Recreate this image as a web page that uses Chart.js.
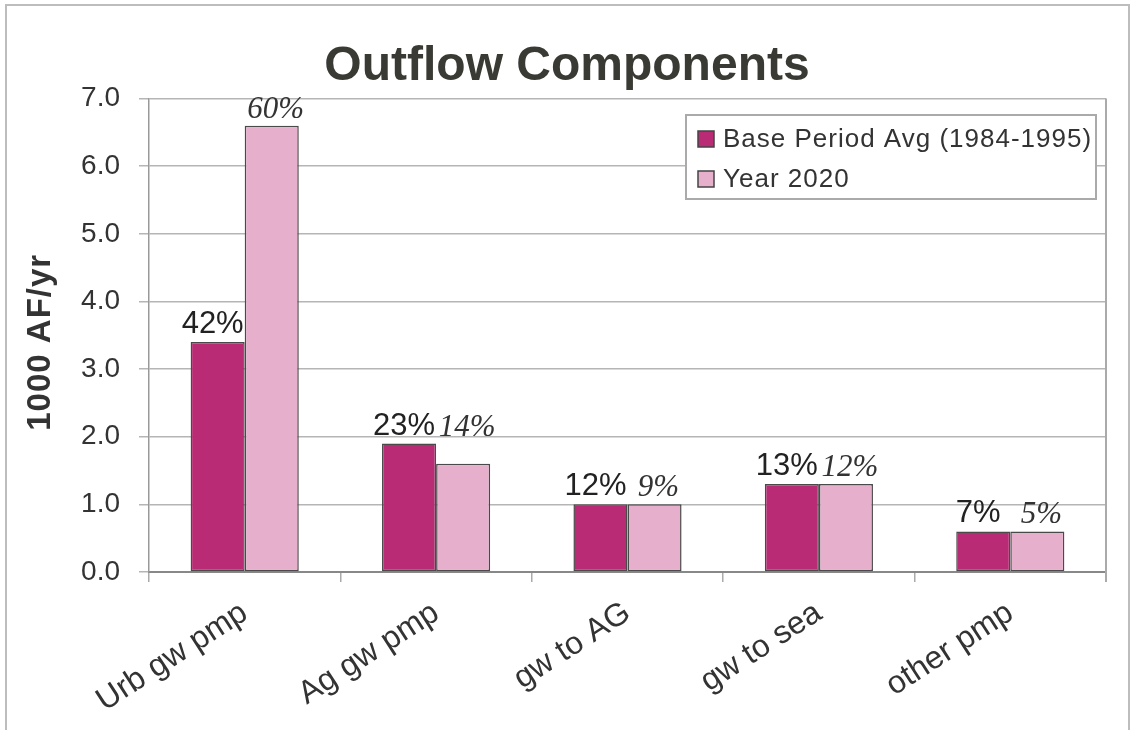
<!DOCTYPE html>
<html>
<head>
<meta charset="utf-8">
<title>Outflow Components</title>
<script src="https://cdn.jsdelivr.net/npm/chart.js@4/dist/chart.umd.min.js"></script>
<style>
  html, body { margin: 0; padding: 0; background: #fff; }
  canvas { display: block; }
</style>
</head>
<body>
<canvas id="outflowChart" width="1131" height="730"></canvas>
<script>
// data
const categories = ["Urb gw pmp", "Ag gw pmp", "gw to AG", "gw to sea", "other pmp"];
const seriesNames = ["Base Period Avg (1984-1995)", "Year 2020"];
const basePeriod = [3.4, 1.9, 1.0, 1.3, 0.6];
const year2020 = [6.6, 1.6, 1.0, 1.3, 0.6];
const basePct = ["42%", "23%", "12%", "13%", "7%"];
const year2020Pct = ["60%", "14%", "9%", "12%", "5%"];
const yTicks = [0, 1, 2, 3, 4, 5, 6, 7];

const sansFont = '"Liberation Sans", Arial, sans-serif';
const serifFont = '"Liberation Serif", "Times New Roman", serif';
const baseColor = "#b92b75";
const lightColor = "#e6b0cc";

// outer frame of the picture
const framePlugin = {
  id: "frame",
  beforeDraw(chart) {
    let ctx = chart.ctx;
    ctx.save();
    ctx.fillStyle = "#fff";
    ctx.fillRect(0, 0, chart.width, chart.height);
    ctx.strokeStyle = "#bdbdbd";
    ctx.lineWidth = 2;
    ctx.strokeRect(6, 5, 1123, 760);
    ctx.restore();
  },
  afterDraw(chart) {
    // right edge of plot area
    let a = chart.chartArea;
    let ctx = chart.ctx;
    ctx.save();
    ctx.strokeStyle = "#aaa";
    ctx.lineWidth = 2;
    ctx.beginPath();
    ctx.moveTo(a.right, a.top);
    ctx.lineTo(a.right, a.bottom + 10);
    ctx.stroke();
    ctx.restore();
  }
};

// percentage labels above the bars
const pctPlugin = {
  id: "pctLabels",
  afterDatasetsDraw(chart) {
    let ctx = chart.ctx;
    let baseMeta = chart.getDatasetMeta(0);
    let newMeta = chart.getDatasetMeta(1);
    ctx.save();
    ctx.textAlign = "center";
    ctx.textBaseline = "alphabetic";
    categories.forEach(function(cat, i) {
      let b = baseMeta.data[i];
      let n = newMeta.data[i];
      ctx.font = "31px " + sansFont;
      ctx.fillStyle = "#222";
      ctx.fillText(basePct[i], b.x - 5, b.y - 9);
      ctx.font = "italic 31px " + serifFont;
      ctx.fillStyle = "#333";
      ctx.fillText(year2020Pct[i], n.x + 4, Math.min(n.y, b.y) - 8);
    });
    ctx.restore();
  }
};

// boxed legend inside the plot
const legendPlugin = {
  id: "boxLegend",
  afterDraw(chart) {
    let ctx = chart.ctx;
    let colors = [baseColor, lightColor];
    ctx.save();
    ctx.fillStyle = "#fff";
    ctx.fillRect(686, 115, 410, 84);
    ctx.strokeStyle = "#aaa";
    ctx.lineWidth = 2;
    ctx.strokeRect(686, 115, 410, 84);
    ctx.font = "26px " + sansFont;
    ctx.textBaseline = "middle";
    ctx.textAlign = "left";
    if ("letterSpacing" in ctx) ctx.letterSpacing = "1px";
    seriesNames.forEach(function(name, i) {
      let cy = 139 + i * 40;
      ctx.fillStyle = colors[i];
      ctx.fillRect(698, cy - 8, 16, 16);
      ctx.strokeStyle = "#444";
      ctx.lineWidth = 1.5;
      ctx.strokeRect(698, cy - 8, 16, 16);
      ctx.fillStyle = "#333";
      ctx.fillText(name, 723, cy + 1);
    });
    ctx.restore();
  }
};

// rotated y axis title
const yTitlePlugin = {
  id: "yTitle",
  afterDraw(chart) {
    let a = chart.chartArea;
    let ctx = chart.ctx;
    ctx.save();
    ctx.translate(41, (a.top + a.bottom) / 2 + 7);
    ctx.rotate(-Math.PI / 2);
    ctx.font = "bold 33px " + sansFont;
    if ("letterSpacing" in ctx) ctx.letterSpacing = "1px";
    ctx.fillStyle = "#333";
    ctx.textAlign = "center";
    ctx.textBaseline = "middle";
    ctx.fillText("1000 AF/yr", 0, 0);
    ctx.restore();
  }
};

let ctx = document.getElementById("outflowChart").getContext("2d");

let chart = new Chart(ctx, {
  type: "bar",
  data: {
    labels: categories,
    datasets: [{
      label: seriesNames[0],
      data: basePeriod,
      backgroundColor: baseColor,
      borderColor: "#4a4a4a",
      borderWidth: 1.5,
      borderSkipped: false
    }, {
      label: seriesNames[1],
      data: year2020,
      backgroundColor: lightColor,
      borderColor: "#4a4a4a",
      borderWidth: 1.5,
      borderSkipped: false
    }]
  },
  options: {
    responsive: false,
    animation: false,
    categoryPercentage: 0.565,
    barPercentage: 1.0,
    layout: {
      padding: { top: 10, left: 28, right: 25, bottom: 0 }
    },
    plugins: {
      legend: { display: false },
      tooltip: { enabled: false },
      title: {
        display: true,
        text: "Outflow Components",
        color: "#3a3a35",
        font: { family: sansFont, size: 48, weight: "bold" },
        padding: { top: 28, bottom: 3 }
      }
    },
    scales: {
      x: {
        offset: true,
        grid: {
          offset: true,
          drawOnChartArea: false,
          drawTicks: true,
          tickLength: 10,
          color: "#aaa",
          lineWidth: 1.5
        },
        border: { display: true, color: "#888", width: 2 },
        ticks: {
          color: "#333",
          font: { family: sansFont, size: 32 },
          minRotation: 33,
          maxRotation: 33,
          padding: 12
        },
        afterFit: function(scale) { scale.height = 158; }
      },
      y: {
        min: yTicks[0],
        max: yTicks[yTicks.length - 1],
        afterBuildTicks: function(scale) {
          scale.ticks = yTicks.map(v => ({ value: v }));
        },
        ticks: {
          color: "#333",
          font: { family: sansFont, size: 28 },
          padding: 19,
          callback: v => v.toFixed(1)
        },
        grid: { color: "#b5b5b5", lineWidth: 1.5, tickLength: 10 },
        border: { display: true, color: "#999", width: 1.5 },
        afterFit: function(scale) { scale.width = 121; }
      }
    }
  },
  plugins: [framePlugin, pctPlugin, legendPlugin, yTitlePlugin]
});
</script>
</body>
</html>
